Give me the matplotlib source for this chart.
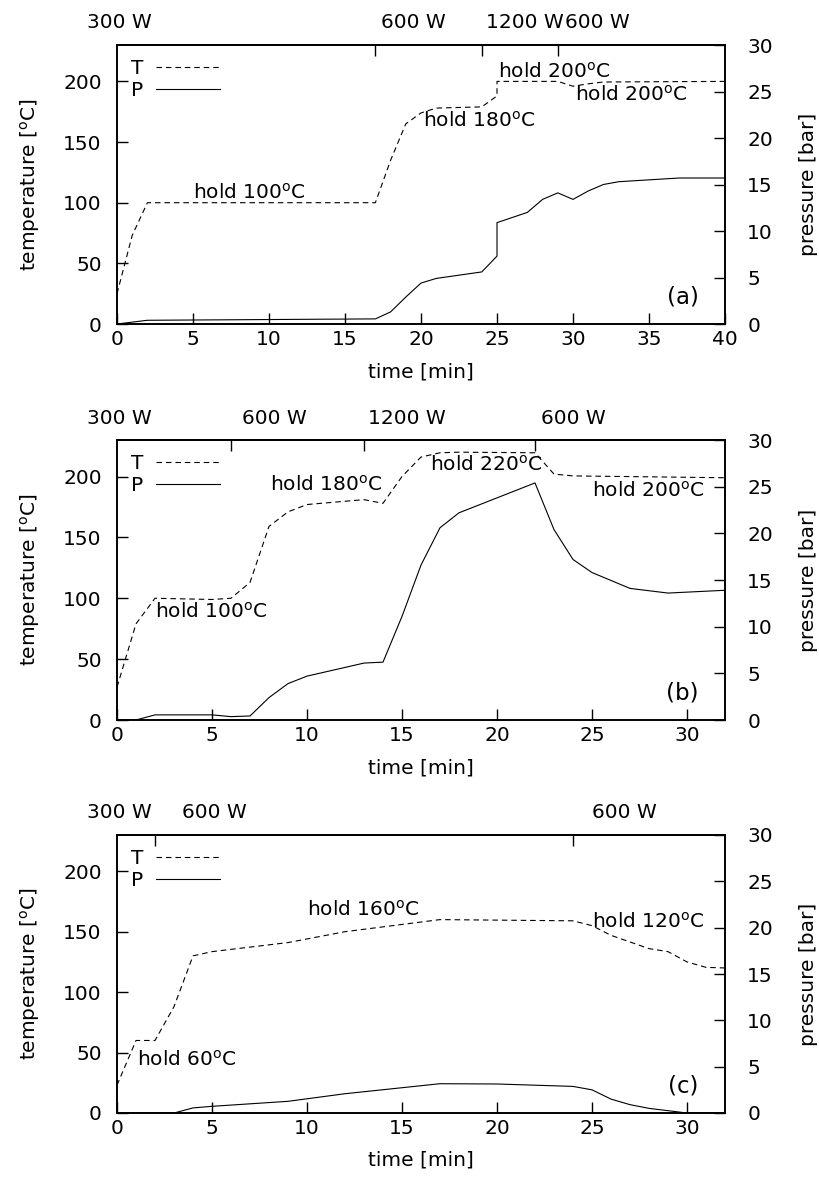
import matplotlib
matplotlib.use("Agg")
import matplotlib.pyplot as plt
import matplotlib.transforms as mtransforms

plt.rcParams['font.family'] = ['DejaVu Sans']
plt.rcParams['mathtext.fontset'] = 'dejavusans'
FS = 14.5

# ---------------- data ----------------
# panel (a)
ta_T = [0, 1, 2, 17, 18, 19, 20, 21, 24, 25, 25, 29, 30, 31, 32, 40]
Ta = [25, 73, 100, 100, 135, 165, 174, 178, 179, 188, 200, 200, 196, 198, 199.5, 200]
ta_P = [0, 2, 17, 18, 19, 20, 21, 24, 25, 25, 27, 28, 29, 30, 31, 32, 33, 35, 37, 40]
Pa = [0, 0.4, 0.55, 1.3, 2.9, 4.4, 4.9, 5.6, 7.3, 10.9, 12.0, 13.4, 14.1, 13.4, 14.3, 15.0, 15.3, 15.5, 15.7, 15.7]

# panel (b)
tb_T = [0, 1, 2, 5, 6, 7, 8, 9, 10, 13, 14, 15, 16, 17, 18, 22, 23, 24, 32]
Tb = [27, 79, 100, 99, 100, 113, 159, 171, 177, 181, 178, 200, 216, 219.5, 220, 219.5, 202, 200.5, 199]
tb_P = [0, 1, 2, 5, 6, 7, 8, 9, 10, 13, 14, 15, 16, 17, 18, 22, 23, 24, 25, 27, 29, 32]
Pb = [0, 0, 0.55, 0.55, 0.36, 0.43, 2.4, 3.9, 4.7, 6.1, 6.2, 11.1, 16.6, 20.6, 22.2, 25.4, 20.4, 17.2, 15.8, 14.1, 13.6, 13.9]

# panel (c)
tc_T = [0, 1, 2, 3, 4, 5, 9, 12, 17, 24, 25, 26, 28, 29, 30, 31, 32]
Tc = [23, 60, 60, 88, 130, 133.5, 141, 150, 160, 159, 155, 147, 136, 133.5, 125, 120.5, 120]
tc_P = [0, 3, 4, 5, 9, 12, 17, 20, 24, 25, 26, 27, 28, 29, 30, 32]
Pc = [0, 0, 0.55, 0.72, 1.26, 2.08, 3.16, 3.13, 2.87, 2.5, 1.5, 0.9, 0.5, 0.25, 0, 0]

# power switching times and labels
power_ticks_a = [17, 24, 29]
power_lab_x_a = [-2.0, 17.4, 24.3, 29.5]
power_lab_a = ['300 W', '600 W', '1200 W', '600 W']
power_ticks_b = [6, 13, 22]
power_lab_x_b = [-1.6, 6.6, 13.2, 22.3]
power_lab_b = ['300 W', '600 W', '1200 W', '600 W']
power_ticks_c = [2, 24]
power_lab_x_c = [-1.6, 3.4, 25.0]
power_lab_c = ['300 W', '600 W', '600 W']

# hold annotations (time, temperature, text)
hold_a = [(5.0, 108, 'hold 100$^{\\rm o}$C'), (20.1, 168, 'hold 180$^{\\rm o}$C'),
          (25.05, 208, 'hold 200$^{\\rm o}$C'), (30.1, 189, 'hold 200$^{\\rm o}$C')]
hold_b = [(2.0, 89, 'hold 100$^{\\rm o}$C'), (8.05, 193, 'hold 180$^{\\rm o}$C'),
          (16.5, 209.5, 'hold 220$^{\\rm o}$C'), (25.0, 188, 'hold 200$^{\\rm o}$C')]
hold_c = [(1.04, 44, 'hold 60$^{\\rm o}$C'), (10.0, 168, 'hold 160$^{\\rm o}$C'),
          (25.0, 158.4, 'hold 120$^{\\rm o}$C')]

panels = [
    dict(tT=ta_T, T=Ta, tP=ta_P, P=Pa, xmax=40, xticks=list(range(0, 41, 5)),
         pticks=power_ticks_a, plx=power_lab_x_a, pl=power_lab_a, hold=hold_a,
         tag='(a)', tagx=38.3, rect=[117, 45, 725, 324]),
    dict(tT=tb_T, T=Tb, tP=tb_P, P=Pb, xmax=32, xticks=list(range(0, 31, 5)),
         pticks=power_ticks_b, plx=power_lab_x_b, pl=power_lab_b, hold=hold_b,
         tag='(b)', tagx=30.6, rect=[117, 440, 725, 720]),
    dict(tT=tc_T, T=Tc, tP=tc_P, P=Pc, xmax=32, xticks=list(range(0, 31, 5)),
         pticks=power_ticks_c, plx=power_lab_x_c, pl=power_lab_c, hold=hold_c,
         tag='(c)', tagx=30.6, rect=[117, 835, 725, 1113]),
]

W, H = 820, 1187
fig = plt.figure(figsize=(W / 100, H / 100), dpi=100)

LW = 0.8
for p in panels:
    x0, y0, x1, y1 = p['rect']
    ax = fig.add_axes([x0 / W, 1 - y1 / H, (x1 - x0) / W, (y1 - y0) / H])
    ax2 = ax.twinx()
    ax.set_zorder(ax2.get_zorder() + 1)
    ax.patch.set_visible(False)

    lT, = ax.plot(p['tT'], p['T'], color='black', lw=LW, dashes=(5, 3.5), label='T')
    lP, = ax2.plot(p['tP'], p['P'], color='black', lw=LW, label='P')

    ax.set_xlim(0, p['xmax'])
    ax.set_ylim(0, 230)
    ax2.set_ylim(0, 30)
    ax.set_xticks(p['xticks'])
    ax.set_yticks([0, 50, 100, 150, 200])
    ax2.set_yticks([0, 5, 10, 15, 20, 25, 30])

    ax.tick_params(axis='x', direction='in', length=8, width=1, top=False,
                   labelsize=FS, pad=4.5)
    ax.tick_params(axis='y', direction='in', length=8, width=1, right=False,
                   labelsize=FS, pad=11)
    ax2.tick_params(axis='y', direction='in', length=8, width=1, left=False,
                    labelsize=FS, pad=16)
    for a in (ax, ax2):
        for s in a.spines.values():
            s.set_linewidth(1.2)

    sec = ax.secondary_xaxis('top')
    sec.set_ticks(p['pticks'])
    sec.set_xticklabels([''] * len(p['pticks']))
    sec.tick_params(direction='in', length=8, width=1)
    sec.spines['top'].set_linewidth(1.2)

    trans = mtransforms.blended_transform_factory(ax.transData, ax.transAxes)
    for xx, lab in zip(p['plx'], p['pl']):
        ax.text(xx, 1 + 22 / (y1 - y0), lab, transform=trans, ha='left', va='center',
                fontsize=FS, clip_on=False)

    for (xx, yy, txt) in p['hold']:
        ax.text(xx, yy, txt, ha='left', va='center', fontsize=FS)
    ax.text(p['tagx'], 22.5, p['tag'], ha='right', va='center', fontsize=FS + 2)

    ax.set_xlabel('time [min]', fontsize=FS)
    ax.xaxis.set_label_coords(0.5, -38 / (y1 - y0))
    ax.set_ylabel('temperature [$^{\\rm o}$C]', fontsize=FS)
    ax.yaxis.set_label_coords(-75 / (x1 - x0), 0.5)
    ax2.set_ylabel('pressure [bar]', fontsize=FS)
    ax2.yaxis.set_label_coords(1 + 74 / (x1 - x0), 0.5)

    ax.legend(handles=[lT, lP], loc='upper left', bbox_to_anchor=(0.0, 1.0),
              markerfirst=False, frameon=False, fontsize=FS, handlelength=3.2,
              handletextpad=0.6, labelspacing=0.15, borderaxespad=0.4,
              borderpad=0.3)

fig.savefig('out.png', dpi=100)
